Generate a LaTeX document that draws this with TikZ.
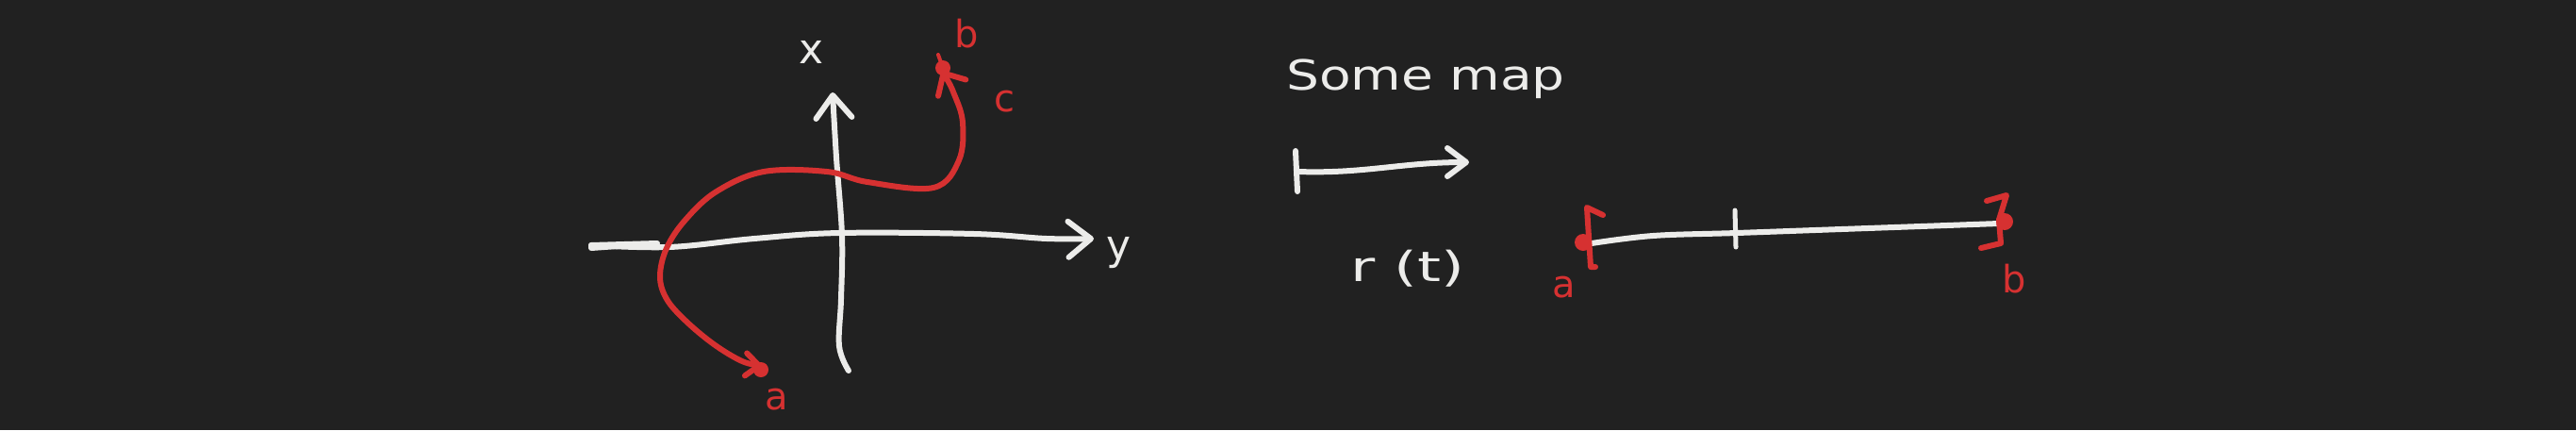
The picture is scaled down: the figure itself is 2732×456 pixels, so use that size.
\documentclass[tikz,border=0pt]{standalone}
\usepackage{fontspec}
\setmainfont{DejaVu Sans}
\usetikzlibrary{arrows.meta}
\definecolor{bg}{HTML}{212121}
\definecolor{ink}{HTML}{ECECEA}
\definecolor{rd}{HTML}{D63131}
\tikzset{
  wline/.style={draw=ink, line width=6pt, line cap=round, line join=round},
  rline/.style={draw=rd, line width=6pt, line cap=round, line join=round},
  bigbarb/.style={-{Straight Barb[length=24pt,width=38pt,round]}},
  midbarb/.style={-{Straight Barb[length=20pt,width=30pt,round]}},
  redbarbs/.style={{Straight Barb[length=18pt,width=34pt,round]}-{Straight Barb[length=14pt,width=24pt,round]}},
  wlbl/.style={text=ink, inner sep=0pt, font=\fontsize{44}{50}\selectfont},
  rlbl/.style={text=rd, inner sep=0pt, font=\fontsize{40}{46}\selectfont},
}
\begin{document}
\begin{tikzpicture}[x=1pt,y=-1pt]
\fill[bg] (0,0) rectangle (2732,456);
\useasboundingbox (0,0) rectangle (2732,456);

% ---------- left: axes ----------
\coordinate (hl) at (627,260);
\coordinate (hr) at (1160,253);
\coordinate (vb) at (900,393);
\coordinate (vt) at (883,98);
\draw[wline] (hl) -- (697,258) -- (627,263) -- (hl);
\draw[wline, bigbarb] plot[smooth, tension=0.6] coordinates {(hl) (710,262) (800,253) (890,247) (1033,248) (1110,253) (hr)};
\draw[wline, bigbarb] plot[smooth, tension=0.6] coordinates {(vb) (890,367) (892,317) (893,250) (887,167) (vt)};
\node[wlbl] (xl) at (861,55) {x};
\node[wlbl] (yl) at (1187,268) {y};

% ---------- red curve ----------
\coordinate (ca) at (808,388);
\coordinate (cb) at (999,75);
\draw[rline, redbarbs] plot[smooth, tension=0.6] coordinates {(cb) (1012,100) (1021,130) (1017,170) (990,199) (920,193) (877,182) (810,182) (760,203) (727,233) (707,263) (700,293) (707,317) (727,340) (757,365) (787,383) (ca)};
\fill[rd] (807,392) circle (8pt);
\fill[rd] (1000,72) circle (8pt);
\draw[rline, line width=4pt] (1000,72) -- (995,58);
\node[rlbl] (la) at (824,424) {a};
\node[rlbl] (lb) at (1025,36) {b};
\node[rlbl] (lc) at (1065,108) {c};

% ---------- right: map ----------
\node[wlbl, xscale=1.25] (sm) at (1512,84) {Some map};
\coordinate (ms) at (1376,182);
\coordinate (me) at (1558,172);
\draw[wline] (1374,160) -- (1376,203);
\draw[wline, midbarb] (ms) to[out=-2,in=180] (me);
\node[wlbl, xscale=1.45] (rt) at (1493,285) {r (t)};

% ---------- interval ----------
\coordinate (ia) at (1688,258);
\coordinate (ib) at (2120,237);
\draw[wline] plot[smooth, tension=0.6] coordinates {(ia) (1753,250) (1842,247) (1953,243) (2037,240) (ib)};
\draw[wline, line width=5pt] (1840,223) -- (1841,262);
% left bracket
\draw[rline] (1700,228) -- (1683,220) -- (1687,283) -- (1692,283);
\fill[rd] (1679,257) circle (9pt);
% right bracket
\draw[rline] (2107,213) -- (2128,207) -- (2120,233) -- (2122,258) -- (2101,263);
\fill[rd] (2126,235) circle (9pt);
\node[rlbl] (ra) at (1659,305) {a};
\node[rlbl] (rb) at (2136,296) {b};
\end{tikzpicture}
\end{document}
